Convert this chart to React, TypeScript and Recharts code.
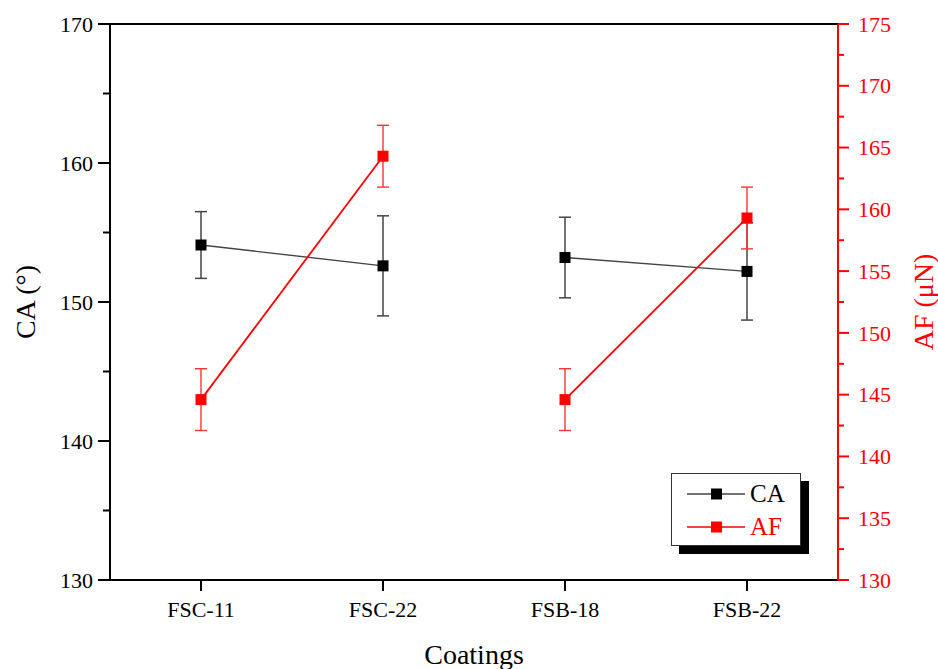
import { ComposedChart, Line, XAxis, YAxis, ErrorBar, ReferenceLine, Legend } from 'recharts';

const FONT = '"Liberation Serif", "Times New Roman", serif';

const categories = ['FSC-11', 'FSC-22', 'FSB-18', 'FSB-22'];
// points in the same group are joined by a line
const groups = [0, 0, 1, 1];
const caValues = [154.1, 152.6, 153.2, 152.2];
const caErrors = [2.4, 3.6, 2.9, 3.5];
const afValues = [144.6, 164.3, 144.6, 159.3];
const afErrors = [2.5, 2.5, 2.5, 2.5];

const caTicks = [130, 135, 140, 145, 150, 155, 160, 165, 170];
const afTicks = [130, 132.5, 135, 137.5, 140, 142.5, 145, 147.5, 150, 152.5, 155, 157.5, 160, 162.5, 165, 167.5, 170, 172.5, 175];

const CA_COLOR = '#000';
const AF_COLOR = '#ff0000';

const data = categories.map((name, i) => ({
  name,
  ca: caValues[i],
  caErr: caErrors[i],
  af: afValues[i],
  afErr: afErrors[i],
  ca0: groups[i] === 0 ? caValues[i] : null,
  ca1: groups[i] === 1 ? caValues[i] : null,
  af0: groups[i] === 0 ? afValues[i] : null,
  af1: groups[i] === 1 ? afValues[i] : null,
}));

const legendItems = [
  { label: 'CA', color: CA_COLOR, line: '#444' },
  { label: 'AF', color: AF_COLOR, line: AF_COLOR },
];

const square = (fill: string) => (props: any) => {
  const { cx, cy, index } = props;
  if (cx == null || cy == null) return <g key={`d-${index}`} />;
  return <rect key={`d-${index}`} x={cx - 5.5} y={cy - 5.5} width={11} height={11} fill={fill} />;
};

const LeftTick = (props: any) => {
  const { x, y, payload } = props;
  const major = payload.value % 10 === 0;
  return (
    <g>
      <line x1={x - (major ? 12 : 7)} x2={x} y1={y} y2={y} stroke="#000" strokeWidth={2} />
      {major && (
        <text x={x - 17} y={y} dy="0.35em" textAnchor="end" fontSize={22} fontFamily={FONT} fill="#000">
          {payload.value}
        </text>
      )}
    </g>
  );
};

const RightTick = (props: any) => {
  const { x, y, payload } = props;
  const major = payload.value % 5 === 0;
  return (
    <g>
      <line x1={x} x2={x + (major ? 11 : 6)} y1={y} y2={y} stroke={AF_COLOR} strokeWidth={2} />
      {major && (
        <text x={x + 20} y={y} dy="0.35em" textAnchor="start" fontSize={22} fontFamily={FONT} fill={AF_COLOR}>
          {payload.value}
        </text>
      )}
    </g>
  );
};

const BottomTick = (props: any) => {
  const { x, y, payload } = props;
  return (
    <g>
      <line x1={x} x2={x} y1={y} y2={y + 11} stroke="#000" strokeWidth={2} />
      <text x={x} y={y + 37} textAnchor="middle" fontSize={22} fontFamily={FONT} fill="#000">
        {payload.value}
      </text>
    </g>
  );
};

const LeftTitle = (props: any) => {
  const { viewBox } = props;
  const cy = viewBox.y + viewBox.height / 2;
  return (
    <text transform={`translate(${viewBox.x + 25},${cy}) rotate(-90)`} textAnchor="middle" fontSize={28} fontFamily={FONT} fill="#000">
      CA (°)
    </text>
  );
};

const RightTitle = (props: any) => {
  const { viewBox } = props;
  const cy = viewBox.y + viewBox.height / 2;
  return (
    <text transform={`translate(${viewBox.x + 95},${cy}) rotate(-90)`} textAnchor="middle" fontSize={28} fontFamily={FONT} fill={AF_COLOR}>
      AF (μN)
    </text>
  );
};

const BottomTitle = (props: any) => {
  const { viewBox } = props;
  return (
    <text x={viewBox.x + viewBox.width / 2} y={viewBox.y + 84} textAnchor="middle" fontSize={28} fontFamily={FONT} fill="#000">
      Coatings
    </text>
  );
};

const LegendBox = () => (
  <div
    style={{
      width: 130,
      height: 73,
      border: '1px solid #333',
      background: '#fff',
      boxShadow: '8px 8px 0 #000',
      boxSizing: 'border-box',
      position: 'relative',
      fontFamily: FONT,
    }}
  >
    {legendItems.map((item, i) => (
      <div key={item.label} style={{ position: 'absolute', left: 0, top: i === 0 ? 5 : 38, height: 30, display: 'flex', alignItems: 'center' }}>
        <svg width={76} height={30}>
          <line x1={15} x2={73} y1={15} y2={15} stroke={item.line} strokeWidth={1.5} />
          <rect x={39} y={9.5} width={11} height={11} fill={item.color} />
        </svg>
        <span style={{ fontSize: 25, color: item.color, marginLeft: 2, lineHeight: '30px' }}>{item.label}</span>
      </div>
    ))}
  </div>
);

export default function App() {
  return (
    <div style={{ position: 'absolute', left: 0, top: 0, width: 938, height: 669, background: '#fff' }}>
      <ComposedChart width={938} height={669} data={data} margin={{ top: 24, right: 10, bottom: 9, left: 10 }}>
        <XAxis
          dataKey="name"
          height={80}
          padding={{ left: 91, right: 91 }}
          axisLine={{ stroke: '#000', strokeWidth: 2 }}
          tickLine={false}
          tickSize={0}
          tickMargin={0}
          interval={0}
          tick={<BottomTick />}
          label={BottomTitle}
        />
        <YAxis
          yAxisId="left"
          orientation="left"
          width={100}
          domain={[130, 170]}
          ticks={caTicks}
          interval={0}
          allowDataOverflow
          axisLine={{ stroke: '#000', strokeWidth: 2 }}
          tickLine={false}
          tickSize={0}
          tickMargin={0}
          tick={<LeftTick />}
          label={LeftTitle}
        />
        <YAxis
          yAxisId="right"
          orientation="right"
          width={90}
          domain={[130, 175]}
          ticks={afTicks}
          interval={0}
          allowDataOverflow
          axisLine={{ stroke: AF_COLOR, strokeWidth: 2 }}
          tickLine={false}
          tickSize={0}
          tickMargin={0}
          tick={<RightTick />}
          label={RightTitle}
        />
        <ReferenceLine yAxisId="left" y={170} stroke="#000" strokeWidth={2} />

        <Line yAxisId="left" dataKey="ca0" stroke="#444" strokeWidth={1.4} dot={false} isAnimationActive={false} legendType="none" />
        <Line yAxisId="left" dataKey="ca1" stroke="#444" strokeWidth={1.4} dot={false} isAnimationActive={false} legendType="none" />
        <Line yAxisId="left" dataKey="ca" name="CA" stroke="none" dot={square(CA_COLOR)} activeDot={false} isAnimationActive={false}>
          <ErrorBar dataKey="caErr" width={6} stroke="#444" strokeWidth={1.5} direction="y" isAnimationActive={false} />
        </Line>

        <Line yAxisId="right" dataKey="af0" stroke={AF_COLOR} strokeWidth={1.8} dot={false} isAnimationActive={false} legendType="none" />
        <Line yAxisId="right" dataKey="af1" stroke={AF_COLOR} strokeWidth={1.8} dot={false} isAnimationActive={false} legendType="none" />
        <Line yAxisId="right" dataKey="af" name="AF" stroke="none" dot={square(AF_COLOR)} activeDot={false} isAnimationActive={false}>
          <ErrorBar dataKey="afErr" width={6} stroke="#ff3333" strokeWidth={1.4} direction="y" isAnimationActive={false} />
        </Line>

        <Legend
          layout="horizontal"
          verticalAlign="middle"
          align="center"
          content={<LegendBox />}
          wrapperStyle={{ left: 671, top: 473, width: 130, height: 73 }}
        />
      </ComposedChart>
    </div>
  );
}
